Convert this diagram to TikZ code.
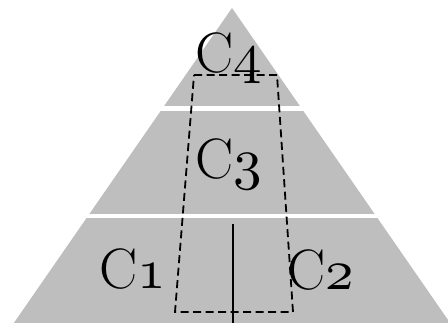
\documentclass[tikz,border=0pt]{standalone}
\DeclareFontShape{OML}{cmm}{m}{it}{<-> cmmi10}{}
\newcommand\osnum[1]{{\fontencoding{OML}\fontfamily{cmm}\fontseries{m}\fontshape{it}\selectfont #1}}
\begin{document}
\begin{tikzpicture}[x=1pt,y=-1pt,
  layer/.style={fill={rgb,255:red,190;green,190;blue,190}},
  sep/.style={draw=white,line width=4.5pt},
  dashbox/.style={draw=black,line width=1.8pt,dash pattern=on 8pt off 4.5pt},
  axis/.style={draw=black,line width=1.8pt},
  lab/.style={anchor=base west,inner sep=0pt,font=\fontsize{57}{60}\selectfont}]
\useasboundingbox (0,0) rectangle (448,323);
\begin{scope}
\clip (0,0) rectangle (448,323);
\fill[layer] (232,8) -- (455,330) -- (9,330) -- cycle;
\draw[sep] (0,108.5) -- (448,108.5);
\draw[sep] (0,216) -- (448,216);
\end{scope}
\coordinate (tl) at (194,75);
\coordinate (tr) at (277,75);
\coordinate (br) at (293,312);
\coordinate (bl) at (175,312);
\draw[dashbox] (tl) -- (tr) -- (br) -- (bl) -- cycle;
\coordinate (vt) at (233,224);
\coordinate (vb) at (233,323);
\draw[axis] (vt) -- (vb);
\node[lab] (c4) at (195,73) {C\osnum{4}};
\node[lab] (c3) at (195,179) {C\osnum{3}};
\node[lab] (c1) at (99,289) {C\osnum{1}};
\node[lab] (c2) at (287,290) {C\osnum{2}};
\end{tikzpicture}
\end{document}
